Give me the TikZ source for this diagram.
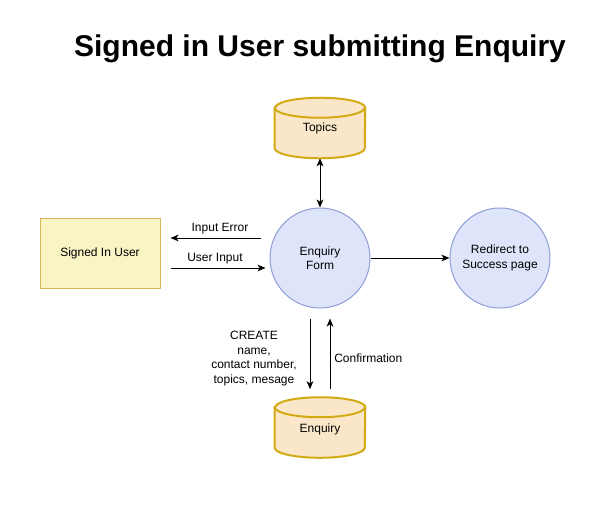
\documentclass[tikz,border=0pt]{standalone}
\usepackage{fontspec}
\setmainfont{Liberation Sans}
\usetikzlibrary{arrows.meta,calc}
\definecolor{cylfill}{HTML}{FAE7C9}
\definecolor{cylstroke}{HTML}{D4AA14}
\definecolor{rectfill}{HTML}{F8F4C4}
\definecolor{rectstroke}{HTML}{D6B656}
\definecolor{circfill}{HTML}{DEE5FA}
\definecolor{circstroke}{HTML}{8E9ED6}
\tikzset{
  lbl/.style={font=\fontsize{9}{10.9}\selectfont, text=black, inner sep=0pt, align=center},
  box/.style={lbl, draw=rectstroke, fill=rectfill, line width=0.75pt, minimum width=90pt, minimum height=52.5pt},
  proc/.style={lbl, circle, draw=circstroke, fill=circfill, line width=0.75pt, minimum size=75pt},
  store/.style={lbl, minimum width=67.5pt, minimum height=45pt},
  cylbody/.style={fill=cylfill, draw=cylstroke, line width=1.5pt},
  arr/.style={-{Stealth[length=6pt,width=5pt,inset=1.6pt]}, line width=0.75pt},
  darr/.style={{Stealth[length=6pt,width=5pt,inset=1.6pt]}-{Stealth[length=6pt,width=5pt,inset=1.6pt]}, line width=0.75pt}
}
\newcommand\drawcyl[1]{%
  \path[cylbody] ($(#1.north west)+(0,10)$) -- ($(#1.south west)+(0,-10)$)
    arc[start angle=180,end angle=0,x radius=45,y radius=10]
    -- ($(#1.north east)+(0,10)$)
    arc[start angle=0,end angle=-180,x radius=45,y radius=10] -- cycle;
  \draw[cylstroke, line width=1.5pt] ($(#1.north west)+(0,10)$)
    arc[start angle=180,end angle=0,x radius=45,y radius=10];
}
\begin{document}
\begin{tikzpicture}[x=0.75pt,y=-0.75pt]
\useasboundingbox (0,0) rectangle (595,508);
\fill[white] (0,0) rectangle (595,508);

\node[font=\bfseries\fontsize{22.5}{25}\selectfont, inner sep=0pt] (title) at (320,49) {Signed in User submitting Enquiry};

\node[store] (topics) at (320,128) {};
\drawcyl{topics}
\node[lbl] (topicstxt) at (320,128) {Topics};

\node[store] (enquiry) at (320,427.5) {};
\drawcyl{enquiry}
\node[lbl] (enquirytxt) at (320,429) {Enquiry};

\node[box] (user) at (100,253) {Signed In User};
\node[proc] (form) at (320,258) {Enquiry\\Form};
\node[proc] (redirect) at (500,258) {Redirect to\\Success page};

\draw[darr] (topics.south) -- (form.north);
\draw[arr] (form.east) -- (redirect.west);

\coordinate (ieA) at ($(user.east)+(100,-15)$);
\coordinate (ieB) at ($(user.east)+(10,-15)$);
\draw[arr] (ieA) -- (ieB);
\node[lbl] (ielbl) at (220,228.5) {Input Error};
\coordinate (uiA) at ($(user.east)+(10,15)$);
\coordinate (uiB) at ($(user.east)+(105,15)$);
\draw[arr] (uiA) -- (uiB);
\node[lbl] (uilbl) at (215,258.5) {User Input};

\coordinate (crA) at ($(form.south)+(-10,10)$);
\coordinate (crB) at ($(enquiry.north)+(-10,-8)$);
\draw[arr] (crA) -- (crB);
\node[lbl] (crlbl) at (254,358.5) {CREATE\\name,\\contact number,\\topics, mesage};

\coordinate (cfA) at ($(enquiry.north)+(10,-8)$);
\coordinate (cfB) at ($(form.south)+(10,10)$);
\draw[arr] (cfA) -- (cfB);
\node[lbl, anchor=west] (cflbl) at (334,358) {Confirmation};
\end{tikzpicture}
\end{document}
